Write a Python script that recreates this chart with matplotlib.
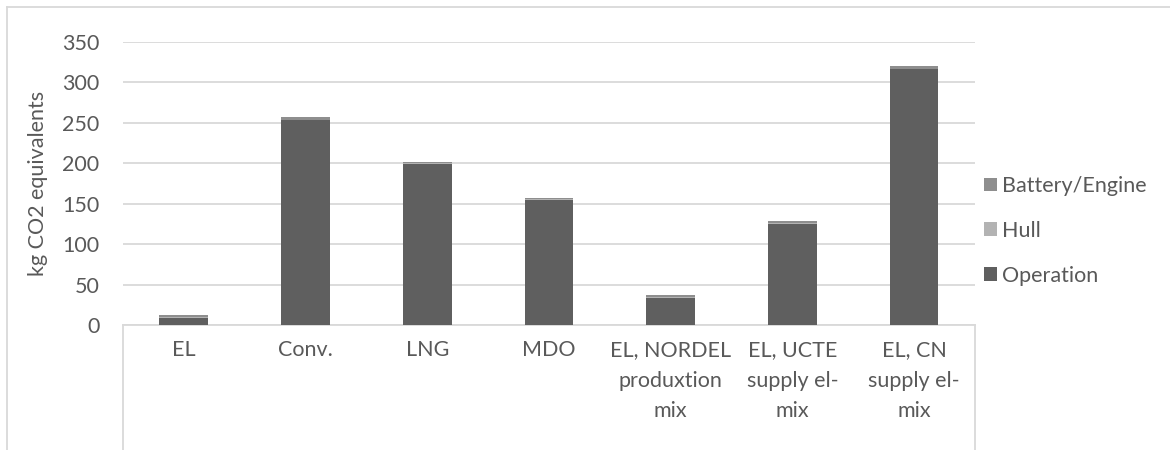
import matplotlib.pyplot as plt
from matplotlib.lines import Line2D

plt.rcParams['font.family'] = ['Lato', 'DejaVu Sans']

categories = ["EL", "Conv.", "LNG", "MDO",
              "EL, NORDEL\nproduxtion\nmix",
              "EL, UCTE\nsupply el-\nmix",
              "EL, CN\nsupply el-\nmix"]
operation = [9, 253, 199, 155, 33, 125, 316]
hull = [0.5, 1, 1, 0.5, 1, 1, 1]
battery = [2.5, 3, 2, 1.5, 3, 3, 3]

c_op = '#5f5f5f'
c_hull = '#b3b3b3'
c_batt = '#8e8e8e'
txt = '#595959'
grid = '#d9d9d9'
fs = 15.5

fig = plt.figure(figsize=(11.7, 4.5), dpi=100)
ax = fig.add_axes([0.1051, 0.2778, 0.7282, 0.6289])

x = range(len(categories))
w = 0.4
b1 = ax.bar(x, operation, w, color=c_op, label='Operation', zorder=3)
b2 = ax.bar(x, hull, w, bottom=operation, color=c_hull, label='Hull', zorder=3)
bottom3 = [o + h for o, h in zip(operation, hull)]
b3 = ax.bar(x, battery, w, bottom=bottom3, color=c_batt, label='Battery/Engine', zorder=3)

ax.set_xlim(-0.5, len(categories) - 0.5)
ax.set_ylim(0, 350)
ax.set_yticks(range(0, 351, 50))
ax.yaxis.grid(True, color=grid, linewidth=1.3)
ax.set_axisbelow(True)
for s in ['top', 'right', 'left']:
    ax.spines[s].set_visible(False)
ax.spines['bottom'].set_color(grid)
ax.spines['bottom'].set_linewidth(1.3)
ax.tick_params(axis='both', length=0, colors=txt, labelsize=fs)
ax.tick_params(axis='y', pad=17)
ax.tick_params(axis='x', pad=11)
ax.set_xticks(list(x))
ax.set_xticklabels(categories, color=txt, fontsize=fs, linespacing=1.65)
ax.set_ylabel('kg CO2 equivalents', color=txt, fontsize=fs, labelpad=10)

# category axis box below the plot and outer chart frame
for xf in [0.1051, 0.8333]:
    fig.add_artist(Line2D([xf, xf], [0, 0.2778], color=grid, lw=1.3))
fig.add_artist(Line2D([0.006, 0.006], [0, 0.985], color=grid, lw=1.3))
fig.add_artist(Line2D([0.006, 1], [0.985, 0.985], color=grid, lw=1.3))

ax.legend(handles=[b3, b2, b1], loc='center left', bbox_to_anchor=(0.8335, 0.487),
          bbox_transform=fig.transFigure, frameon=False, fontsize=fs,
          labelcolor=txt, handlelength=0.6, handleheight=0.6, handletextpad=0.25,
          labelspacing=1.15, borderaxespad=0)

fig.savefig('out.png', dpi=100)
